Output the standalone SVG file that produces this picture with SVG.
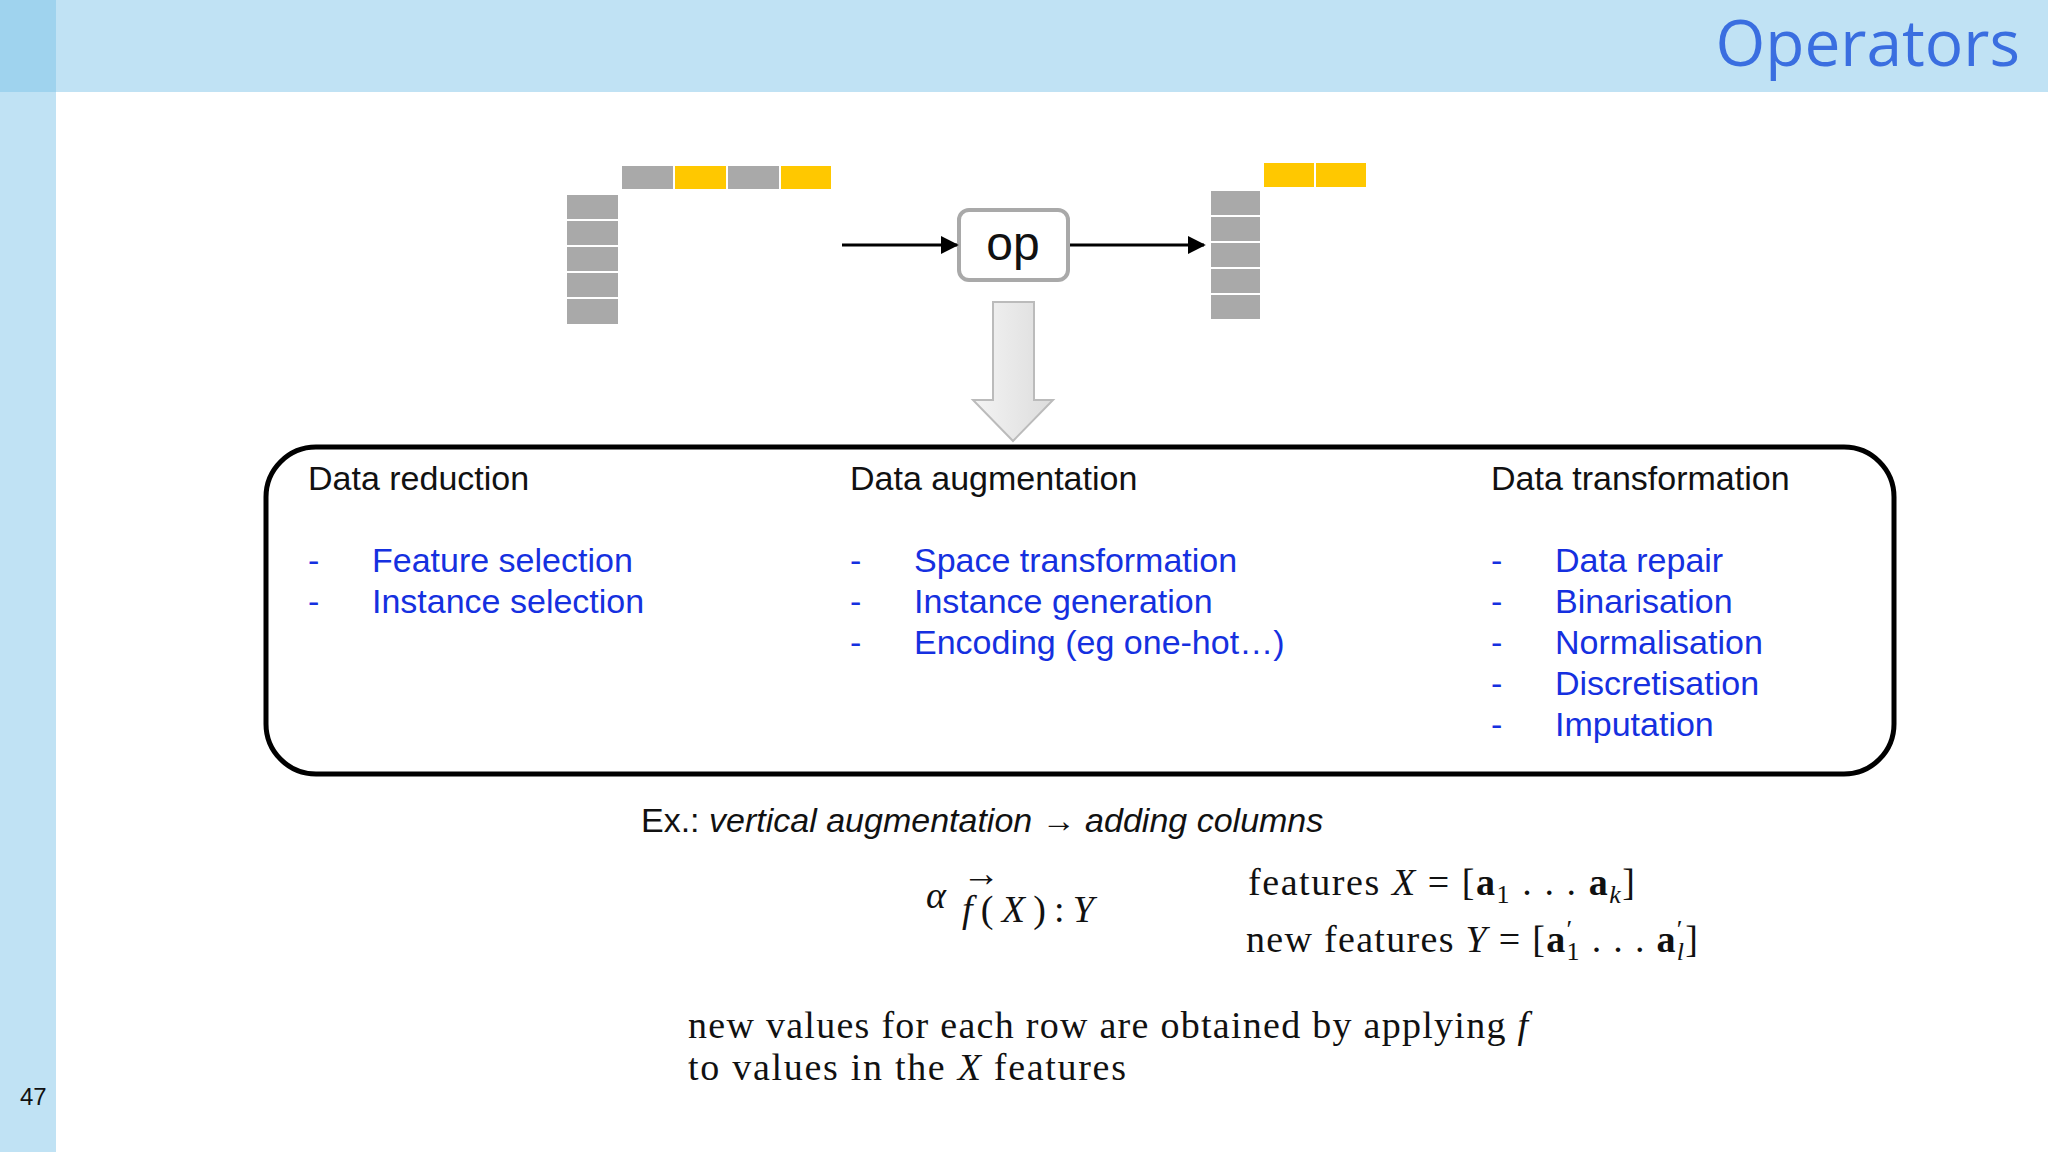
<svg xmlns="http://www.w3.org/2000/svg" width="2048" height="1152" viewBox="0 0 2048 1152">
<defs>
<style>
.g{fill:#a9a9a9}.y{fill:#ffc800}
.h{font-family:"Liberation Sans",Arial,sans-serif;font-size:34px;fill:#111}
.i{font-family:"Liberation Sans",Arial,sans-serif;font-size:34px;fill:#1530e0}
.m{font-family:"Liberation Serif","Times New Roman",serif;font-size:38px;fill:#111}
</style>
<marker id="ah" viewBox="0 0 10 10" refX="9" refY="5" markerWidth="6" markerHeight="6" orient="auto"><path d="M0,0L10,5L0,10z" fill="#000"/></marker>
<linearGradient id="dg" x1="0" x2="1"><stop offset="0" stop-color="#f4f4f4"/><stop offset="1" stop-color="#dcdcdc"/></linearGradient>
</defs>
<rect width="2048" height="1152" fill="#fff"/>
<rect width="2048" height="92" fill="#c0e2f4"/>
<rect width="56" height="1152" fill="#c0e2f4"/>
<rect width="56" height="92" fill="#9fd3ee"/>
<text x="2020" y="66" text-anchor="end" font-family="'Open Sans','Noto Sans',sans-serif" font-size="64" fill="#3a6ee0">Operators</text>
<text x="20" y="1105" font-family="'Liberation Sans',sans-serif" font-size="24" fill="#111">47</text>
<g id="input">
<rect class="g" x="622" y="166" width="51" height="23"/><rect class="y" x="675" y="166" width="51" height="23"/><rect class="g" x="728" y="166" width="51" height="23"/><rect class="y" x="781" y="166" width="50" height="23"/>
<rect class="g" x="567" y="195" width="51" height="24"/><rect class="g" x="567" y="221" width="51" height="24"/><rect class="g" x="567" y="247" width="51" height="24"/><rect class="g" x="567" y="273" width="51" height="24"/><rect class="g" x="567" y="299" width="51" height="25"/>
</g>
<g id="output">
<rect class="y" x="1264" y="163" width="50" height="24"/><rect class="y" x="1316" y="163" width="50" height="24"/>
<rect class="g" x="1211" y="191" width="49" height="24"/><rect class="g" x="1211" y="217" width="49" height="24"/><rect class="g" x="1211" y="243" width="49" height="24"/><rect class="g" x="1211" y="269" width="49" height="24"/><rect class="g" x="1211" y="295" width="49" height="24"/>
</g>
<g id="op">
<rect x="959" y="210" width="109" height="70" rx="10" fill="#fff" stroke="#a9a9a9" stroke-width="4"/>
<text x="1013" y="260" text-anchor="middle" font-family="'Liberation Sans',sans-serif" font-size="48" fill="#111">op</text>
</g>
<g id="connectors">
<line x1="842" y1="245" x2="957" y2="245" stroke="#000" stroke-width="3" marker-end="url(#ah)"/>
<line x1="1070" y1="245" x2="1204" y2="245" stroke="#000" stroke-width="3" marker-end="url(#ah)"/>
<path d="M993,302H1034V400H1053L1013,441L973,400H993Z" fill="url(#dg)" stroke="#bbb" stroke-width="2"/>
</g>
<g id="categories">
<rect x="266" y="447" width="1628" height="327" rx="50" fill="none" stroke="#000" stroke-width="5"/>
<text class="h" x="308" y="490">Data reduction</text>
<text class="h" x="850" y="490">Data augmentation</text>
<text class="h" x="1491" y="490">Data transformation</text>
<g class="i">
<text x="308" y="572">-</text><text x="372" y="572">Feature selection</text>
<text x="308" y="613">-</text><text x="372" y="613">Instance selection</text>
<text x="850" y="572">-</text><text x="914" y="572">Space transformation</text>
<text x="850" y="613">-</text><text x="914" y="613">Instance generation</text>
<text x="850" y="654">-</text><text x="914" y="654">Encoding (eg one-hot…)</text>
<text x="1491" y="572">-</text><text x="1555" y="572">Data repair</text>
<text x="1491" y="613">-</text><text x="1555" y="613">Binarisation</text>
<text x="1491" y="654">-</text><text x="1555" y="654">Normalisation</text>
<text x="1491" y="695">-</text><text x="1555" y="695">Discretisation</text>
<text x="1491" y="736">-</text><text x="1555" y="736">Imputation</text>
</g>
</g>
<g id="example">
<text class="h" x="641" y="832">Ex.: <tspan font-style="italic">vertical augmentation <tspan font-weight="bold">→</tspan> adding columns</tspan></text>
<text class="m" x="926" y="908" font-size="54" font-style="italic">α</text>
<text class="m" x="962" y="922" font-size="40" font-style="italic" textLength="132" lengthAdjust="spacing">f<tspan font-style="normal">(</tspan>X<tspan font-style="normal">):</tspan>Y</text>
<text class="m" x="962" y="886" font-size="36">→</text>
<text class="m" x="1248" y="895" font-size="40" textLength="387" lengthAdjust="spacing">features <tspan font-style="italic">X</tspan> = [<tspan font-weight="bold">a</tspan><tspan font-size="26" dy="8">1</tspan><tspan dy="-8"> . . . </tspan><tspan font-weight="bold">a</tspan><tspan font-size="26" dy="8" font-style="italic">k</tspan><tspan dy="-8">]</tspan></text>
<text class="m" x="1246" y="952" font-size="40" textLength="452" lengthAdjust="spacing">new features <tspan font-style="italic">Y</tspan> = [<tspan font-weight="bold">a</tspan><tspan font-size="26" dy="-14">′</tspan><tspan font-size="26" dx="-7" dy="22">1</tspan><tspan dy="-8"> . . . </tspan><tspan font-weight="bold">a</tspan><tspan font-size="26" dy="-14">′</tspan><tspan font-size="26" font-style="italic" dx="-7" dy="22">l</tspan><tspan dy="-8">]</tspan></text>
<text class="m" x="688" y="1038" font-size="40" textLength="840" lengthAdjust="spacing">new values for each row are obtained by applying <tspan font-style="italic">f</tspan></text>
<text class="m" x="688" y="1080" font-size="40" textLength="438" lengthAdjust="spacing">to values in the <tspan font-style="italic">X</tspan> features</text>
</g>
</svg>
